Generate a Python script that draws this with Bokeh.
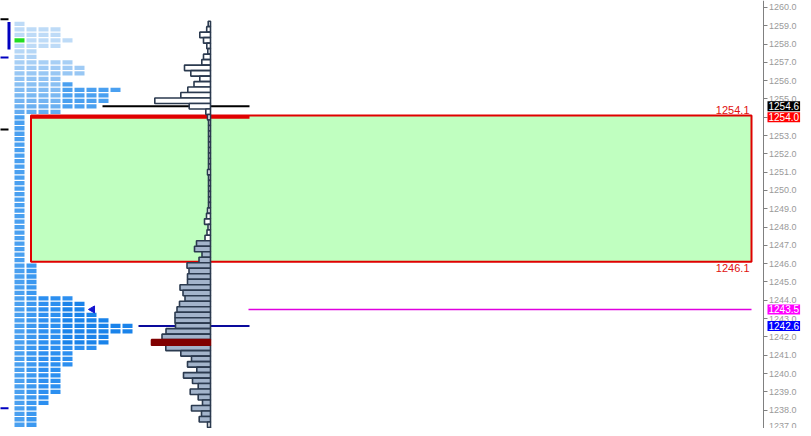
import numpy as np
from bokeh.plotting import figure
from bokeh.models import Range1d, LinearAxis, SingleIntervalTicker, PrintfTickFormatter, Label
from bokeh.core.properties import value
from bokeh.embed import file_html
from bokeh.resources import INLINE

# ---------------- data ----------------
ROW_STEP = 0.3
TOP_PRICE = 1259.1

# TPO letters per price row, top (1259.1) to bottom (1236.9)
tpo_counts = [
    1, 4, 4, 5, 4, 2, 2, 5, 6, 6, 4, 5, 9, 8, 8, 7, 4, 1,
    1, 1, 1, 1, 1, 1, 1, 1, 1, 1, 1, 1, 1, 1, 1, 1, 1, 1, 1, 1, 1, 1, 1, 1, 1, 1,
    2, 2, 2, 2, 2, 2,
    5, 6, 6, 7, 8, 10, 10, 8, 8, 7,
    5, 5, 5, 4, 4, 4, 4, 4, 3, 3, 2, 2, 2, 2, 1,
]

# volume profile per price row (same rows)
volume = [
    2.3, 3.8, 10.7, 7, 3.7, 2.7, 7, 8.7, 26, 19.7, 10.7, 16.5, 22.7, 29.7, 55.7, 21.3, 4.7, 3,
    2, 2, 2, 2, 2, 2, 2, 2, 2, 3, 2, 2, 2, 2, 2, 2, 3, 4, 6, 2.5, 3.5, 5.5, 14, 16, 8.5, 11.5,
    23.5, 21.5, 23, 23, 30.5, 27.5,
    25.5, 31, 33.5, 35.5, 35.5, 35, 44.5, 48.5, 59, 44.7,
    29.7, 19, 23, 13.7, 27, 18, 12.3, 20.3, 12.3, 8, 19, 9, 11.3, 3, 2,
]

va_high = 1247.1
va_low = 1237.5

zone_top = 1254.1
zone_bottom = 1246.1

last_price = 1254.6
red_level = 1254.0
magenta_level = 1243.5
blue_level = 1242.6

open_price = 1258.2       # green TPO
arrow_price = 1243.5      # blue triangle marker

prev_black = [1259.35, 1253.33]
prev_blue = [1257.27, 1238.1]
prev_bar = [1257.7, 1259.2]

# ---------------- layout constants ----------------
TPO_X0 = 22
COL_PITCH = 12
BLOCK_W = 10
VP_X = 218
RECT_X0, RECT_X1 = 38.5, 759
SEG_X1 = 257
AXIS_X = 770.5
BOX_X = 774

prices = [round(TOP_PRICE - i * ROW_STEP, 1) for i in range(len(tpo_counts))]


def hexc(c):
    return "#%02x%02x%02x" % c


def mix(a, b, t):
    t = max(0.0, min(1.0, t))
    return tuple(int(round(a[i] * (1 - t) + b[i] * t)) for i in range(3))


LIGHT = (190, 219, 247)
MID = (100, 172, 241)
BASE = (74, 160, 240)
DEEP = (44, 143, 240)
DEEPER = (26, 131, 234)


def tpo_color(price, col):
    if price >= 1257.9:
        c = LIGHT
    elif price >= 1254.3:
        c = mix(LIGHT, MID, (1257.9 - price) / 3.6)
        if price <= 1255.8 and col >= 4:
            c = BASE
    else:
        c = BASE
    if price < 1246.0:
        if col == 1:
            c = mix(BASE, DEEP, 0.5)
        elif col >= 2:
            c = DEEP
        if col >= 4 and 1241.5 < price < 1244.0:
            c = DEEPER
    return hexc(c)


p = figure(width=803, height=428,
           x_range=Range1d(8, 811), y_range=Range1d(1236.995, 1260.38),
           output_backend="svg", toolbar_location=None,
           x_axis_location=None, y_axis_location=None,
           min_border_left=0, min_border_top=0, min_border_bottom=0, min_border_right=0)
p.outline_line_color = None
p.background_fill_color = "white"
p.border_fill_color = "white"
p.grid.grid_line_color = None
p.xgrid.visible = False
p.ygrid.visible = False

ax = LinearAxis(ticker=SingleIntervalTicker(interval=1, num_minor_ticks=0),
                formatter=PrintfTickFormatter(format="%.1f"),
                fixed_location=AXIS_X,
                major_label_text_font_size="9px",
                major_label_text_font="Liberation Sans",
                major_label_text_color="#9a9a9a",
                axis_line_color="#808080", major_tick_line_color="#808080",
                major_tick_out=4, major_tick_in=0, minor_tick_out=0, minor_tick_in=0,
                major_label_standoff=2)
p.add_layout(ax, "right")

# zone rectangle
p.quad(left=[RECT_X0], right=[RECT_X1], top=[zone_top], bottom=[zone_bottom],
       fill_color="#c0ffc0", line_color="#e00000", line_width=2)

# level lines
p.segment(x0=[RECT_X0], x1=[SEG_X1], y0=[red_level], y1=[red_level], line_color="#e00000", line_width=3)
p.segment(x0=[110], x1=[SEG_X1], y0=[last_price], y1=[last_price], line_color="black", line_width=2)
p.segment(x0=[146], x1=[SEG_X1], y0=[blue_level], y1=[blue_level], line_color="#0a0a9c", line_width=2)
p.segment(x0=[256], x1=[RECT_X1], y0=[magenta_level], y1=[magenta_level], line_color="#e000e0", line_width=1.4)

# previous-profile remnants at the left edge
p.segment(x0=[0, 0], x1=[16, 16], y0=prev_black, y1=prev_black, line_color="black", line_width=2)
p.segment(x0=[0, 0], x1=[16, 16], y0=prev_blue, y1=prev_blue, line_color="#0000c0", line_width=2)
p.segment(x0=[16.5], x1=[16.5], y0=[prev_bar[0]], y1=[prev_bar[1]], line_color="#0000c0", line_width=3)

# volume profile
vol = np.array(volume)
poc_i = int(np.argmax(vol))
fills = []
for pr, v in zip(prices, volume):
    fills.append("#a3b4cb" if va_low - 1e-6 <= pr <= va_high + 1e-6 else "white")
idx = [i for i in range(len(prices)) if i != poc_i]
p.hbar(y=[prices[i] for i in idx], left=[VP_X - volume[i] for i in idx], right=VP_X,
       height=ROW_STEP, fill_color=[fills[i] for i in idx], line_color="#2b3a4f", line_width=1.6)
p.hbar(y=[prices[poc_i]], left=[VP_X - volume[poc_i]], right=VP_X, height=ROW_STEP,
       fill_color="#800000", line_color="#800000", line_width=1.6)

# TPO blocks
xs, ys, cs = [], [], []
for pr, n in zip(prices, tpo_counts):
    for k in range(n):
        xs.append(TPO_X0 + k * COL_PITCH + BLOCK_W / 2)
        ys.append(pr)
        cs.append("#22dd22" if (abs(pr - open_price) < 1e-6 and k == 0) else tpo_color(pr, k))
p.rect(x=xs, y=ys, width=BLOCK_W, height=ROW_STEP * 0.78, fill_color=cs, line_color=None)

# triangle marker
ai = prices.index(arrow_price)
p.scatter(x=[TPO_X0 + tpo_counts[ai] * COL_PITCH + 6], y=[arrow_price], marker="triangle",
          angle=np.pi / 2, size=7, fill_color="#1414d0", line_color="#1414d0")

# zone labels
p.text(x=[RECT_X1 - 2], y=[zone_top], text=["%.1f" % zone_top], text_align="right",
       text_baseline="bottom", y_offset=-1, text_color="#e01010", text_font_size="11px",
       text_font=value("Liberation Sans"))
p.text(x=[RECT_X1 - 2], y=[zone_bottom], text=["%.1f" % zone_bottom], text_align="right",
       text_baseline="top", y_offset=2, text_color="#e01010", text_font_size="11px",
       text_font=value("Liberation Sans"))

# price boxes on the axis
for lvl, bg in [(last_price, "black"), (red_level, "#ff0000"), (magenta_level, "#ff00ff"), (blue_level, "#0000ff")]:
    p.add_layout(Label(x=BOX_X + 1, y=lvl, x_units="data", y_units="data", text="%.1f" % lvl,
                       text_align="left", text_baseline="middle", text_color="white",
                       text_font_size="10px", text_font="Liberation Sans",
                       background_fill_color=bg, background_fill_alpha=1.0, padding=1))

open("out.html", "w").write(file_html(p, INLINE))
